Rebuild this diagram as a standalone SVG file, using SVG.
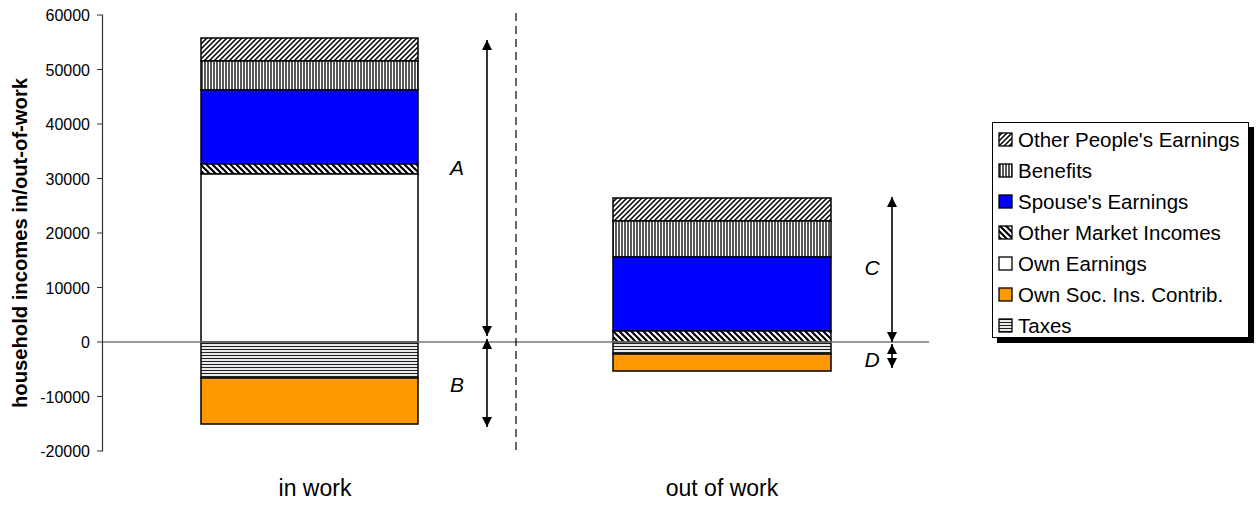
<svg xmlns="http://www.w3.org/2000/svg" width="1258" height="506" viewBox="0 0 1258 506">
<style>
text{font-family:"Liberation Sans",Arial,sans-serif;fill:#000}
.tick{font-size:16px;text-anchor:end}
.cat{font-size:23px;text-anchor:middle}
.lab{font-size:21px;font-style:italic;text-anchor:middle}
.leg{font-size:20.5px}
.seg{stroke:#000;stroke-width:1.5}
.ico{stroke:#000;stroke-width:1.3}
.axis{stroke:#333;stroke-width:1.2;fill:none}
.zero{stroke:#777;stroke-width:1.3}
.arr{stroke:#000;stroke-width:1.6;marker-start:url(#ah);marker-end:url(#ah)}
</style>
<defs>
<marker id="ah" viewBox="0 0 10 10" refX="10" refY="5" markerUnits="userSpaceOnUse" markerWidth="10" markerHeight="10" orient="auto-start-reverse"><path d="M0,0 L10,5 L0,10 z" fill="#000"/></marker>
<pattern id="pOPE" patternUnits="userSpaceOnUse" width="5" height="5"><rect width="5" height="5" fill="#fff"/><path d="M-1,1 l2,-2 M0,5 l5,-5 M4,6 l2,-2" stroke="#000" stroke-width="1.5"/></pattern>
<pattern id="pBen" patternUnits="userSpaceOnUse" width="3" height="3"><rect width="3" height="3" fill="#fff"/><path d="M1,0 v3" stroke="#000" stroke-width="1.3"/></pattern>
<pattern id="pOMI" patternUnits="userSpaceOnUse" width="6" height="6"><rect width="6" height="6" fill="#fff"/><path d="M0,0 l6,6 M-1,5 l2,2 M5,-1 l2,2" stroke="#000" stroke-width="2.2"/></pattern>
<pattern id="pTax" patternUnits="userSpaceOnUse" width="3" height="3"><rect width="3" height="3" fill="#fff"/><path d="M0,1.5 h3" stroke="#222" stroke-width="1.2"/></pattern>
</defs>

<g id="axes">
<path class="axis" d="M102.5,15 V451 M97,15 H103 M97,69.5 H103 M97,124 H103 M97,178.5 H103 M97,233 H103 M97,287.5 H103 M97,342 H103 M97,396.5 H103 M97,451 H103"/>
<text class="tick" x="90" y="21">60000</text>
<text class="tick" x="90" y="75.5">50000</text>
<text class="tick" x="90" y="130">40000</text>
<text class="tick" x="90" y="184.5">30000</text>
<text class="tick" x="90" y="239">20000</text>
<text class="tick" x="90" y="293.5">10000</text>
<text class="tick" x="90" y="348">0</text>
<text class="tick" x="90" y="402.5">-10000</text>
<text class="tick" x="90" y="457">-20000</text>
<text x="27" y="243" transform="rotate(-90 27 243)" text-anchor="middle" font-size="20" font-weight="bold" textLength="330" lengthAdjust="spacingAndGlyphs">household incomes in/out-of-work</text>
</g>

<g id="bar-in-work">
<rect class="seg" x="201" y="38" width="217" height="23" fill="url(#pOPE)"/>
<rect class="seg" x="201" y="61" width="217" height="29" fill="url(#pBen)"/>
<rect class="seg" x="201" y="90" width="217" height="74" fill="#0000ff"/>
<rect class="seg" x="201" y="164" width="217" height="10" fill="url(#pOMI)"/>
<rect class="seg" x="201" y="174" width="217" height="168" fill="#fff"/>
<rect class="seg" x="201" y="342" width="217" height="36" fill="url(#pTax)"/>
<rect class="seg" x="201" y="378" width="217" height="46" fill="#ff9900"/>
</g>

<g id="bar-out-of-work">
<rect class="seg" x="613" y="198" width="218" height="23" fill="url(#pOPE)"/>
<rect class="seg" x="613" y="221" width="218" height="36" fill="url(#pBen)"/>
<rect class="seg" x="613" y="257" width="218" height="74" fill="#0000ff"/>
<rect class="seg" x="613" y="331" width="218" height="11" fill="url(#pOMI)"/>
<rect class="seg" x="613" y="342" width="218" height="12" fill="url(#pTax)"/>
<rect class="seg" x="613" y="354" width="218" height="17" fill="#ff9900"/>
</g>

<g id="connectors">
<line class="zero" x1="103" y1="342" x2="929" y2="342"/>
<line x1="516" y1="13" x2="516" y2="452" stroke="#000" stroke-width="1.2" stroke-dasharray="8,5"/>
<line class="arr" x1="487" y1="40" x2="487" y2="336"/>
<line class="arr" x1="487" y1="339" x2="487" y2="427"/>
<line class="arr" x1="892" y1="197" x2="892" y2="342"/>
<line class="arr" x1="892" y1="344" x2="892" y2="368"/>
</g>

<g id="labels">
<text class="lab" x="457" y="175">A</text>
<text class="lab" x="457" y="392">B</text>
<text class="lab" x="872" y="275">C</text>
<text class="lab" x="872" y="367">D</text>
<text class="cat" x="315" y="496">in work</text>
<text class="cat" x="722" y="496">out of work</text>
</g>

<g id="legend">
<rect x="997" y="127" width="257" height="216" fill="#000"/>
<rect x="992.5" y="122.5" width="256" height="215" fill="#fff" stroke="#000" stroke-width="1"/>
<rect class="ico" x="999" y="133" width="13" height="13" fill="url(#pOPE)"/>
<text class="leg" x="1018" y="147">Other People's Earnings</text>
<rect class="ico" x="999" y="164" width="13" height="13" fill="url(#pBen)"/>
<text class="leg" x="1018" y="178">Benefits</text>
<rect class="ico" x="999" y="195" width="13" height="13" fill="#0000ff"/>
<text class="leg" x="1018" y="209">Spouse's Earnings</text>
<rect class="ico" x="999" y="226" width="13" height="13" fill="url(#pOMI)"/>
<text class="leg" x="1018" y="240">Other Market Incomes</text>
<rect class="ico" x="999" y="257" width="13" height="13" fill="#fff"/>
<text class="leg" x="1018" y="271">Own Earnings</text>
<rect class="ico" x="999" y="288" width="13" height="13" fill="#ff9900"/>
<text class="leg" x="1018" y="302">Own Soc. Ins. Contrib.</text>
<rect class="ico" x="999" y="319" width="13" height="13" fill="url(#pTax)"/>
<text class="leg" x="1018" y="333">Taxes</text>
</g>
</svg>
